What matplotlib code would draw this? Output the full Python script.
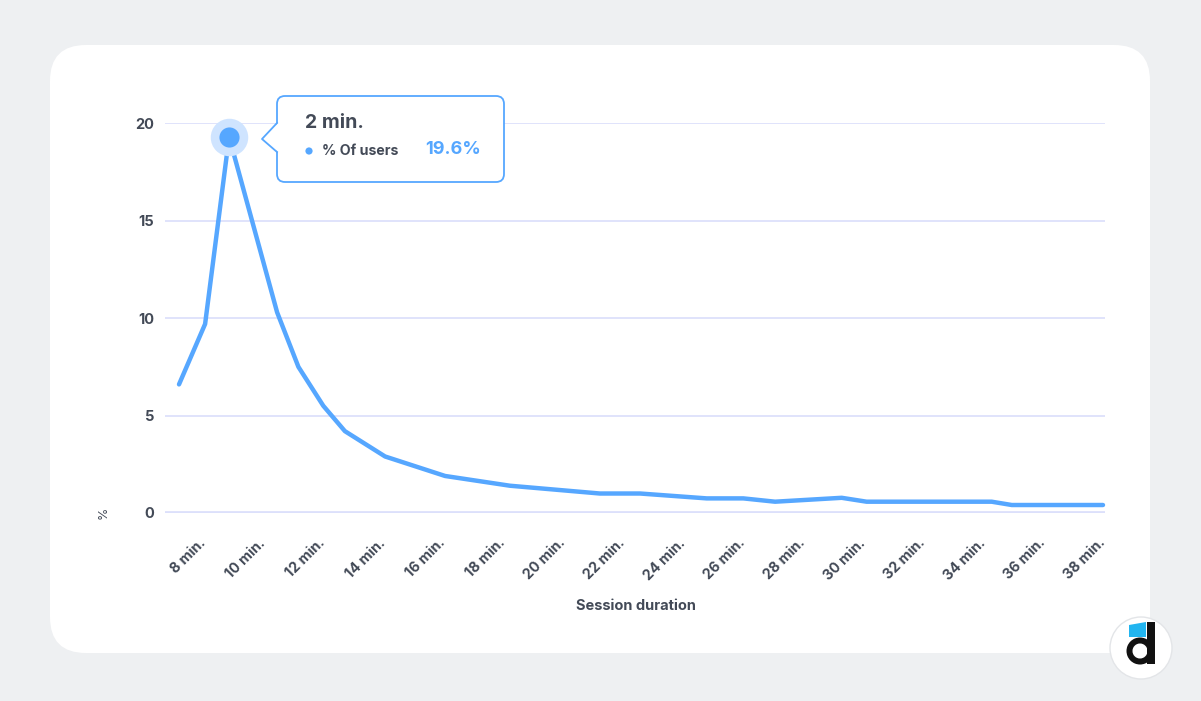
import matplotlib
matplotlib.use("Agg")
import matplotlib.pyplot as plt
from matplotlib.patches import FancyBboxPatch, Circle, Polygon, Rectangle, Wedge

plt.rcParams['font.family'] = ['Inter', 'DejaVu Sans']

# data (x in the axis' minute units)
minutes = [7.2, 8.07, 8.87, 10.47, 11.18, 12.01, 12.73, 14.07, 16.07, 18.23,
           21.23, 22.57, 24.79, 26.01, 27.07, 29.29, 30.12, 34.29, 34.96, 38.0]
users_pct = [6.6, 9.7, 19.3, 10.3, 7.5, 5.5, 4.2, 2.9, 1.9, 1.4,
             1.0, 1.0, 0.75, 0.75, 0.58, 0.78, 0.58, 0.58, 0.41, 0.41]
tick_min = list(range(8, 40, 2))
tick_labels = [f"{m} min." for m in tick_min]
y_ticks = [0, 5, 10, 15, 20]
peak_label = "2 min."
peak_value = "19.6%"

W, H = 1201, 701
BLUE = "#56a7ff"
DARK = "#434a57"

fig = plt.figure(figsize=(W / 100, H / 100), dpi=100)
fig.patch.set_facecolor("#eef0f2")

# background card
bg = fig.add_axes([0, 0, 1, 1], zorder=0)
bg.set_xlim(0, W)
bg.set_ylim(H, 0)
bg.axis("off")
bg.add_patch(FancyBboxPatch((50, 45), 1100, 608, boxstyle="round,pad=0,rounding_size=36",
                            fc="white", ec="none"))

# main chart
ax = fig.add_axes([165 / W, 1 - 513 / H, 940 / W, (513 - 123.3) / H], zorder=1)
ax.set_facecolor("none")
ax.set_xlim(6.733, 38.067)
ax.set_ylim(0, 20)
for s in ax.spines.values():
    s.set_visible(False)
ax.set_yticks(y_ticks)
ax.set_yticklabels([str(v) for v in y_ticks], fontsize=10.5, fontweight="bold", color=DARK)
ax.yaxis.grid(True, color="#dde1fb", lw=1.3)
ax.axhline(0, color="#d9ddfb", lw=2.6, zorder=1)
ax.tick_params(axis="both", length=0)
ax.tick_params(axis="y", pad=8)
ax.set_xticks(tick_min)
ax.set_xticklabels(tick_labels, fontsize=10.3, fontweight="bold", color=DARK,
                   rotation=45, ha="right", va="center", rotation_mode="anchor")
ax.tick_params(axis="x", pad=20)

ax.plot(minutes, users_pct, color=BLUE, lw=3.2, solid_joinstyle="round",
        solid_capstyle="round", zorder=3, clip_on=False)
i_peak = users_pct.index(max(users_pct))
ax.plot(minutes[i_peak], users_pct[i_peak], "o", ms=27, color="#cfe4ff", mec="none",
        zorder=4, clip_on=False)
ax.plot(minutes[i_peak], users_pct[i_peak], "o", ms=14.5, color=BLUE, mec="none",
        zorder=5, clip_on=False)

# overlay: texts, tooltip, logo
fg = fig.add_axes([0, 0, 1, 1], zorder=5)
fg.set_xlim(0, W)
fg.set_ylim(H, 0)
fg.axis("off")
fg.patch.set_alpha(0)

fg.text(104, 513, "%", rotation=90, ha="center", va="center", fontsize=9, color=DARK)
fg.text(636, 606, "Session duration", ha="center", va="center", fontsize=10.5,
        fontweight="bold", color=DARK)

fg.add_patch(FancyBboxPatch((277, 96), 227, 86, boxstyle="round,pad=0,rounding_size=8",
                            fc="white", ec=BLUE, lw=1.3))
fg.add_patch(Polygon([(278, 123), (262, 139), (278, 152)], closed=True, fc="white", ec="none"))
fg.plot([277, 262, 277], [123, 139, 152], color=BLUE, lw=1.3, solid_joinstyle="round")
fg.text(305, 123, peak_label, ha="left", va="center", fontsize=14, fontweight="bold", color=DARK)
fg.add_patch(Circle((309, 151), 3.6, fc=BLUE, ec="none"))
fg.text(322, 151, "% Of users", ha="left", va="center", fontsize=10.2, fontweight="bold", color=DARK)
fg.text(425, 150, peak_value, ha="left", va="center", fontsize=13, fontweight="bold", color=BLUE)

# logo
fg.add_patch(Circle((1141, 648), 31, fc="white", ec="#e3e5e8", lw=1))
fg.add_patch(Polygon([(1129, 625), (1146, 622), (1146, 637), (1129, 637)], closed=True,
                     fc="#22b5f0", ec="none"))
fg.add_patch(Rectangle((1147, 622), 8, 42, fc="#111111", ec="none"))
fg.add_patch(Wedge((1140, 651), 13.5, 0, 360, width=6, fc="#111111", ec="none"))

fig.savefig("out.png", dpi=100)
